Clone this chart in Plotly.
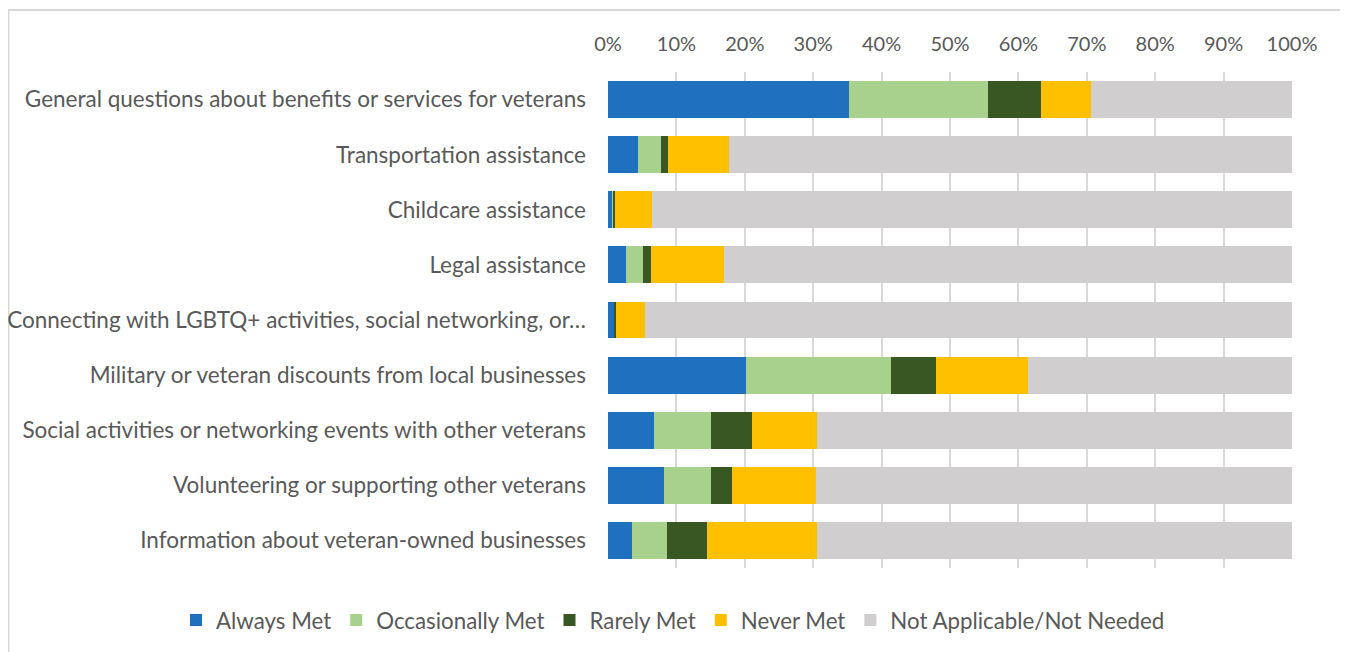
import plotly.graph_objects as go

categories = [
    "General questions about benefits or services for veterans",
    "Transportation assistance",
    "Childcare assistance",
    "Legal assistance",
    "Connecting with LGBTQ+ activities, social networking, or…",
    "Military or veteran discounts from local businesses",
    "Social activities or networking events with other veterans",
    "Volunteering or supporting other veterans",
    "Information about veteran-owned businesses",
]

always_met = [35.2, 4.4, 0.6, 2.7, 1.0, 20.2, 6.7, 8.2, 3.5]
occasionally_met = [20.4, 3.4, 0.15, 2.4, 0.0, 21.2, 8.3, 6.9, 5.1]
rarely_met = [7.7, 1.0, 0.25, 1.2, 0.15, 6.6, 6.1, 3.0, 5.9]
never_met = [7.3, 8.9, 5.5, 10.6, 4.2, 13.4, 9.5, 12.3, 16.1]
not_applicable = [29.4, 82.3, 93.5, 83.1, 94.7, 38.6, 69.4, 69.6, 69.4]

series_names = ["Always Met", "Occasionally Met", "Rarely Met", "Never Met", "Not Applicable/Not Needed"]
series_values = [always_met, occasionally_met, rarely_met, never_met, not_applicable]
colors = ["#1f70bf", "#a9d18e", "#385723", "#ffc000", "#d0cece"]

tick_vals = [0, 10, 20, 30, 40, 50, 60, 70, 80, 90, 100]
tick_text = ["0%", "10%", "20%", "30%", "40%", "50%", "60%", "70%", "80%", "90%", "100%"]

FONT = "Lato"
TEXT_COLOR = "#595959"

# page has an 8px body margin; figure sized to fit the 1348x652 window
W, H = 1340, 644
L, T = 600, 64
PW, PH = 684, 496
R = W - L - PW
B = H - T - PH

fig = go.Figure()
for name, vals, col in zip(series_names, series_values, colors):
    fig.add_trace(go.Bar(
        y=categories, x=vals, name=name, orientation="h",
        marker=dict(color=col, line=dict(width=0)),
    ))

fig.update_layout(
    barmode="stack",
    bargap=0.33,
    width=W, height=H,
    margin=dict(l=L, r=R, t=T, b=B, autoexpand=False),
    paper_bgcolor="white", plot_bgcolor="white",
    font=dict(family=FONT, size=20, color=TEXT_COLOR),
    legend=dict(
        orientation="h", xref="paper", x=(168 - L) / PW, xanchor="left",
        yref="paper", y=(T + PH - (620 - 8)) / PH, yanchor="middle",
        font=dict(family=FONT, size=22.3, color=TEXT_COLOR),
        traceorder="normal", itemwidth=30,
    ),
    xaxis=dict(
        side="top", range=[0, 100], tickvals=tick_vals, ticktext=tick_text,
        showgrid=True, gridcolor="#d9d9d9", gridwidth=2,
        zeroline=False, showline=False, ticks="",
        ticklabelstandoff=16,
        tickfont=dict(family=FONT, size=20, color=TEXT_COLOR),
    ),
    yaxis=dict(
        autorange="reversed", showgrid=False, ticks="", showline=False,
        ticklabelstandoff=21,
        tickfont=dict(family=FONT, size=22.5, color=TEXT_COLOR),
    ),
    shapes=[dict(
        type="rect", xref="paper", yref="paper",
        x0=(0.5 - L) / PW, x1=(1339 - L) / PW,
        y0=(T + PH - 660) / PH, y1=1 + (T - 2) / PH,
        line=dict(color="#d9d9d9", width=2), fillcolor="rgba(0,0,0,0)", layer="below",
    )],
)

fig.write_html("out.html")
